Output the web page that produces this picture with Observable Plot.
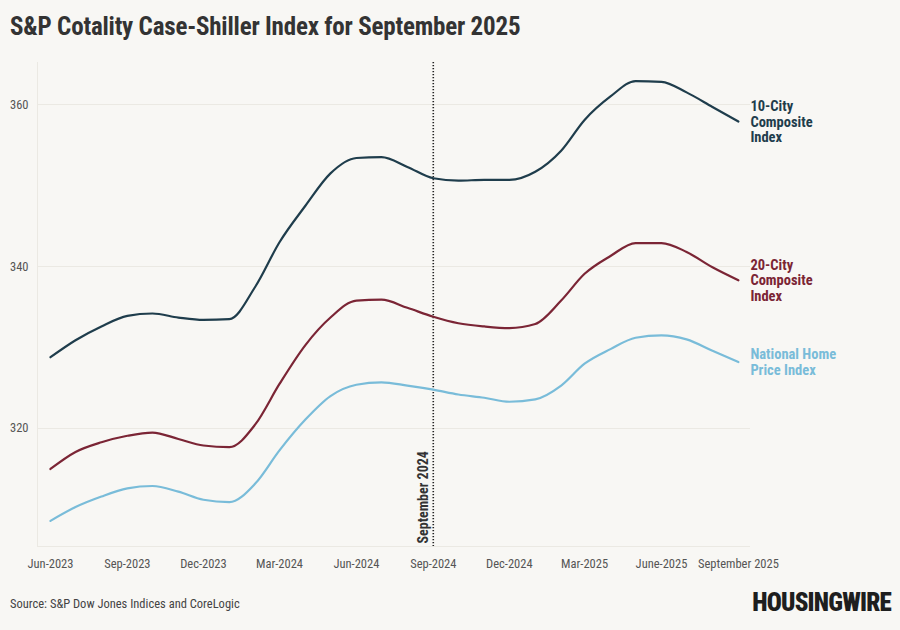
<!DOCTYPE html>
<html>
<head>
<meta charset="utf-8">
<script src="https://cdn.jsdelivr.net/npm/d3@7"></script>
<script src="https://cdn.jsdelivr.net/npm/@observablehq/plot@0.6"></script>
<style>
  html, body { margin: 0; padding: 0; background: #f8f7f4; }
  body { width: 900px; height: 630px; position: relative; overflow: hidden;
         font-family: "Roboto Condensed", "Liberation Sans Narrow", "DejaVu Sans Condensed", Roboto, sans-serif; }
  #title { position: absolute; left: 10px; top: 12px; font-size: 25px; font-weight: bold; color: #333;
           font-family: "Roboto Condensed", "Liberation Sans Narrow", "DejaVu Sans Condensed", Roboto, sans-serif; letter-spacing: -0.2px; }
  #chart { position: absolute; left: 0; top: 50px; }
  #source { position: absolute; left: 10px; top: 596px; font-size: 12.5px; color: #444; }
  #logo { position: absolute; right: 9px; top: 588px; font-size: 25px; font-weight: 900; color: #1e1e1e; letter-spacing: -0.8px; }
</style>
</head>
<body>
<div id="title">S&amp;P Cotality Case-Shiller Index for September 2025</div>
<div id="chart"></div>
<div id="source">Source: S&amp;P Dow Jones Indices and CoreLogic</div>
<div id="logo">HOUSINGWIRE</div>
<script>
const months = ["2023-06","2023-07","2023-08","2023-09","2023-10","2023-11","2023-12",
  "2024-01","2024-02","2024-03","2024-04","2024-05","2024-06","2024-07","2024-08","2024-09",
  "2024-10","2024-11","2024-12","2025-01","2025-02","2025-03","2025-04","2025-05","2025-06",
  "2025-07","2025-08","2025-09"];
const city10 = [328.8,330.9,332.6,333.9,334.2,333.7,333.4,333.5,337.5,343.0,347.5,351.5,353.4,353.5,
  352.3,350.9,350.6,350.7,350.7,351.7,354.3,358.1,361.0,362.9,362.8,361.5,359.7,357.9];
const city20 = [315.0,317.1,318.3,319.1,319.5,318.7,317.9,317.7,320.5,325.5,330.3,333.7,335.8,335.9,
  334.9,333.8,333.0,332.6,332.4,332.9,335.8,339.1,341.3,342.9,342.9,341.8,339.9,338.3];
const national = [308.6,310.3,311.6,312.6,312.9,312.2,311.2,310.9,313.2,317.3,321.1,324.0,325.4,325.7,
  325.3,324.8,324.2,323.8,323.3,323.6,325.3,328.0,329.8,331.2,331.5,331.0,329.6,328.2];
const seriesNames = ["10-City\nComposite\nIndex", "20-City\nComposite\nIndex", "National Home\nPrice Index"];
const seriesColors = ["#1f3d4c", "#7b2535", "#79bcd9"];
const tickMonths = ["2023-06","2023-09","2023-12","2024-03","2024-06","2024-09","2024-12","2025-03","2025-06","2025-09"];
const tickLabels = ["Jun-2023","Sep-2023","Dec-2023","Mar-2024","Jun-2024","Sep-2024","Dec-2024","Mar-2025","June-2025","September 2025"];
const yTicks = [320, 340, 360];
const markerMonth = "2024-09";
const markerLabel = "September 2024";

const parse = s => new Date(s + "-01T00:00:00Z");
const allSeries = [city10, city20, national];
const rows = [];
allSeries.forEach((vals, k) => vals.forEach((v, i) => rows.push({date: parse(months[i]), value: v, series: seriesNames[k]})));
const lastRows = allSeries.map((vals, k) => ({date: parse(months[months.length - 1]), value: vals[vals.length - 1], series: seriesNames[k]}));
const labelMap = new Map(tickMonths.map((m, i) => [+parse(m), tickLabels[i]]));

const xDomain = [new Date(Date.UTC(2023, 4, 16, 12)), new Date(Date.UTC(2025, 8, 15, 12))];
const yDomain = [305.43, 365.19];
const font = '"Roboto Condensed", "Liberation Sans Narrow", "DejaVu Sans Condensed", Roboto, sans-serif';

const chart = Plot.plot({
  width: 900,
  height: 530,
  marginLeft: 37,
  marginRight: 150,
  marginTop: 12,
  marginBottom: 34,
  style: {background: "transparent", fontFamily: font, fontSize: "12.5px", color: "#555", overflow: "visible"},
  x: {type: "utc", domain: xDomain, ticks: tickMonths.map(parse), tickFormat: d => labelMap.get(+d), tickSize: 0, tickPadding: 13, label: null},
  y: {domain: yDomain, ticks: yTicks, tickSize: 0, tickPadding: 9, label: null},
  color: {domain: seriesNames, range: seriesColors},
  marks: [
    Plot.ruleY(yTicks, {stroke: "#ebe9e3", strokeWidth: 1}),
    Plot.ruleY([yDomain[0]], {stroke: "#ebe9e3", strokeWidth: 1}),
    Plot.ruleX([xDomain[0]], {stroke: "#ebe9e3", strokeWidth: 1}),
    Plot.ruleX([parse(markerMonth)], {stroke: "#222", strokeWidth: 1.6, strokeDasharray: "1.3,1.7"}),
    Plot.text([markerLabel], {x: () => parse(markerMonth), y: () => yDomain[0], rotate: -90, textAnchor: "start", dx: -10, dy: -3, fontWeight: "bold", fontSize: 14, fill: "#333"}),
    Plot.line(rows, {x: "date", y: "value", z: "series", stroke: "series", strokeWidth: 2.2, curve: "monotone-x"}),
    Plot.text(lastRows, {x: "date", y: "value", text: "series", fill: "series", textAnchor: "start", dx: 12, fontWeight: "bold", fontSize: 14.5, lineHeight: 1.08})
  ]
});
document.getElementById("chart").appendChild(chart);
</script>
</body>
</html>
